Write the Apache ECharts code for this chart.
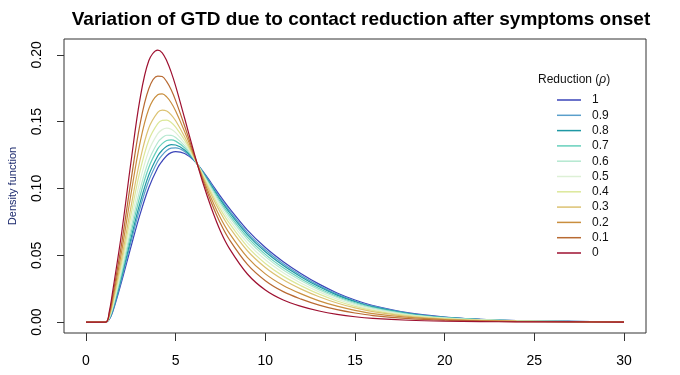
<!DOCTYPE html>
<html>
<head>
<meta charset="utf-8">
<title>GTD variation</title>
<script src="https://cdn.jsdelivr.net/npm/echarts@6/dist/echarts.min.js"></script>
<style>
  html, body { margin: 0; padding: 0; background: #fff; }
  #chart { width: 680px; height: 375px; }
</style>
</head>
<body>
<div id="chart"></div>
<script>
// days since infection (sample points)
var days = [0, 1.1, 1.3, 1.5, 2, 2.5, 3, 3.5, 4, 4.25, 4.5, 4.75, 5, 5.5, 6, 6.5, 7, 7.5, 8,
            9, 10, 11, 12, 13, 14, 15, 16, 18, 20, 22, 24, 27, 30];

// density per reduction level rho
var rho_1   = [0, 0, 0.0020, 0.0080, 0.0310, 0.0560, 0.0800, 0.1005, 0.1155, 0.1205, 0.1245, 0.1268, 0.1276, 0.1262, 0.1212, 0.1132, 0.1037, 0.0940, 0.0850,
               0.0688, 0.0558, 0.0452, 0.0362, 0.0284, 0.0218, 0.0165, 0.0124, 0.0069, 0.0038, 0.0021, 0.0011, 0.0005, 0.0002];
var rho_0_9 = [0, 0, 0.0023, 0.0089, 0.0330, 0.0595, 0.0847, 0.1057, 0.1203, 0.1250, 0.1284, 0.1301, 0.1303, 0.1277, 0.1216, 0.1128, 0.1027, 0.0926, 0.0834,
               0.0670, 0.0541, 0.0436, 0.0349, 0.0273, 0.0209, 0.0158, 0.0119, 0.0066, 0.0036, 0.0020, 0.0011, 0.0005, 0.0002];
var rho_0_8 = [0, 0, 0.0026, 0.0096, 0.0347, 0.0623, 0.0886, 0.1100, 0.1243, 0.1286, 0.1316, 0.1328, 0.1325, 0.1288, 0.1219, 0.1124, 0.1018, 0.0914, 0.0820,
               0.0655, 0.0526, 0.0423, 0.0338, 0.0264, 0.0202, 0.0153, 0.0114, 0.0064, 0.0035, 0.0019, 0.0010, 0.0005, 0.0002];
var rho_0_7 = [0, 0, 0.0030, 0.0106, 0.0369, 0.0661, 0.0938, 0.1157, 0.1296, 0.1335, 0.1359, 0.1364, 0.1354, 0.1304, 0.1223, 0.1119, 0.1007, 0.0898, 0.0802,
               0.0636, 0.0507, 0.0406, 0.0323, 0.0252, 0.0192, 0.0145, 0.0109, 0.0060, 0.0033, 0.0018, 0.0010, 0.0004, 0.0002];
var rho_0_6 = [0, 0, 0.0033, 0.0114, 0.0390, 0.0696, 0.0985, 0.1209, 0.1344, 0.1379, 0.1398, 0.1397, 0.1381, 0.1319, 0.1227, 0.1114, 0.0997, 0.0884, 0.0786,
               0.0618, 0.0490, 0.0390, 0.0310, 0.0241, 0.0184, 0.0138, 0.0103, 0.0057, 0.0031, 0.0017, 0.0009, 0.0004, 0.0002];
var rho_0_5 = [0, 0, 0.0037, 0.0126, 0.0417, 0.0743, 0.1049, 0.1281, 0.1410, 0.1440, 0.1451, 0.1443, 0.1418, 0.1338, 0.1232, 0.1108, 0.0983, 0.0865, 0.0763,
               0.0593, 0.0466, 0.0369, 0.0291, 0.0226, 0.0172, 0.0129, 0.0096, 0.0053, 0.0029, 0.0016, 0.0008, 0.0004, 0.0002];
var rho_0_4 = [0, 0, 0.0043, 0.0140, 0.0449, 0.0796, 0.1123, 0.1361, 0.1485, 0.1509, 0.1511, 0.1494, 0.1459, 0.1361, 0.1238, 0.1101, 0.0967, 0.0843, 0.0738,
               0.0565, 0.0439, 0.0344, 0.0271, 0.0209, 0.0158, 0.0118, 0.0088, 0.0048, 0.0026, 0.0015, 0.0008, 0.0004, 0.0001];
var rho_0_3 = [0, 0, 0.0048, 0.0155, 0.0484, 0.0856, 0.1204, 0.1452, 0.1569, 0.1586, 0.1579, 0.1551, 0.1506, 0.1386, 0.1244, 0.1094, 0.0949, 0.0818, 0.0709,
               0.0534, 0.0409, 0.0317, 0.0247, 0.0190, 0.0143, 0.0106, 0.0079, 0.0043, 0.0023, 0.0013, 0.0007, 0.0003, 0.0001];
var rho_0_2 = [0, 0, 0.0057, 0.0179, 0.0539, 0.0951, 0.1333, 0.1594, 0.1701, 0.1707, 0.1685, 0.1641, 0.1579, 0.1425, 0.1254, 0.1081, 0.0921, 0.0779, 0.0664,
               0.0485, 0.0361, 0.0274, 0.0211, 0.0159, 0.0119, 0.0088, 0.0064, 0.0035, 0.0019, 0.0010, 0.0005, 0.0003, 0.0001];
var rho_0_1 = [0, 0, 0.0067, 0.0205, 0.0599, 0.1051, 0.1471, 0.1746, 0.1841, 0.1837, 0.1799, 0.1738, 0.1657, 0.1467, 0.1265, 0.1068, 0.0891, 0.0737, 0.0616,
               0.0432, 0.0310, 0.0228, 0.0172, 0.0127, 0.0093, 0.0068, 0.0049, 0.0026, 0.0014, 0.0008, 0.0004, 0.0002, 0.0001];
var rho_0   = [0, 0, 0.0080, 0.0240, 0.0680, 0.1190, 0.1660, 0.1955, 0.2035, 0.2015, 0.1955, 0.1870, 0.1765, 0.1525, 0.1280, 0.1050, 0.0850, 0.0680, 0.0550,
               0.0360, 0.0240, 0.0165, 0.0118, 0.0083, 0.0058, 0.0040, 0.0028, 0.0014, 0.0007, 0.0004, 0.0002, 0.0001, 0.00003];

var reductions = ['1', '0.9', '0.8', '0.7', '0.6', '0.5', '0.4', '0.3', '0.2', '0.1', '0'];
var curves = [rho_1, rho_0_9, rho_0_8, rho_0_7, rho_0_6, rho_0_5, rho_0_4, rho_0_3, rho_0_2, rho_0_1, rho_0];
var yTicks = [0, 0.05, 0.10, 0.15, 0.20];

var palette = ['#3A44B8', '#5A9FCB', '#1E98A4', '#66D0BC', '#B4E8D0', '#DDF0D6',
               '#DCE89A', '#DCC272', '#C98E3E', '#B86A32', '#9E1030'];

var chart = echarts.init(document.getElementById('chart'), null, { renderer: 'canvas' });

var series = curves.map(function (arr, i) {
  return {
    name: reductions[i],
    type: 'line',
    xAxisIndex: 0,
    yAxisIndex: 0,
    data: days.map(function (d, j) { return [d, arr[j]]; }),
    smooth: 0.35,
    showSymbol: false,
    symbol: 'none',
    clip: false,
    lineStyle: { color: palette[i], width: 1.2 },
    itemStyle: { color: palette[i] },
    z: 2 + i
  };
});

var option = {
  backgroundColor: '#fff',
  animation: false,
  textStyle: { fontFamily: 'Liberation Sans, Arial, sans-serif' },
  title: [{
    text: 'Variation of GTD due to contact reduction after symptoms onset',
    left: 356,
    textAlign: 'center',
    top: 5,
    textStyle: { fontSize: 19, fontWeight: 'bold', color: '#000' }
  }, {
    text: 'Reduction ({r|ρ})',
    left: 533,
    top: 69,
    textStyle: {
      fontSize: 12, fontWeight: 'normal', color: '#111',
      rich: { r: { fontSize: 12, fontStyle: 'italic', color: '#111' } }
    }
  }],
  legend: {
    data: reductions,
    orient: 'vertical',
    left: 557,
    top: 94,
    padding: 0,
    icon: 'rect',
    itemWidth: 24,
    itemHeight: 1.5,
    itemGap: 3.3,
    textStyle: { fontSize: 12, color: '#111', padding: [0, 0, 0, 6] }
  },
  grid: [
    // plotting area, x from 0 to 30
    { left: 86, right: 56, top: 39, bottom: 42, containLabel: false, outerBoundsMode: 'none', show: false },
    // frame box around the plot
    { left: 64, right: 34, top: 39, bottom: 42, containLabel: false, outerBoundsMode: 'none',
      show: true, borderColor: '#333', borderWidth: 1 },
    // thin strip under the frame that carries the x tick marks
    { left: 86, right: 56, top: 333, bottom: 34, containLabel: false, outerBoundsMode: 'none', show: false }
  ],
  xAxis: [{
    type: 'value',
    gridIndex: 0,
    min: 0,
    max: 30,
    interval: 5,
    splitLine: { show: false },
    axisLine: { show: false, onZero: false },
    axisTick: { show: false },
    axisLabel: { fontSize: 14, color: '#000', margin: 21 }
  }, {
    type: 'value', gridIndex: 1, show: false
  }, {
    type: 'value',
    gridIndex: 2,
    position: 'top',
    min: 0,
    max: 30,
    interval: 5,
    splitLine: { show: false },
    axisLine: { show: false, onZero: false },
    axisTick: { show: true, inside: true, length: 8, lineStyle: { color: '#333', width: 1 } },
    axisLabel: { show: false }
  }],
  yAxis: [{
    type: 'value',
    gridIndex: 0,
    min: -0.00815,
    max: 0.2118,
    offset: 22,
    name: 'Density function',
    nameLocation: 'middle',
    nameRotate: 90,
    nameGap: 46,
    nameTextStyle: { fontSize: 11, color: '#1C2A6E' },
    splitLine: { show: false },
    axisLine: { show: false, onZero: false },
    axisTick: { show: true, inside: false, length: 7, lineStyle: { color: '#333', width: 1 }, customValues: yTicks },
    axisLabel: {
      fontSize: 14, color: '#000', rotate: 90, margin: 20,
      customValues: yTicks,
      formatter: function (v) { return v.toFixed(2); }
    }
  }, {
    type: 'value', gridIndex: 1, show: false
  }, {
    type: 'value', gridIndex: 2, show: false, min: 0, max: 1
  }],
  series: series
};

chart.setOption(option);
window.addEventListener('resize', chart.resize);
</script>
</body>
</html>
